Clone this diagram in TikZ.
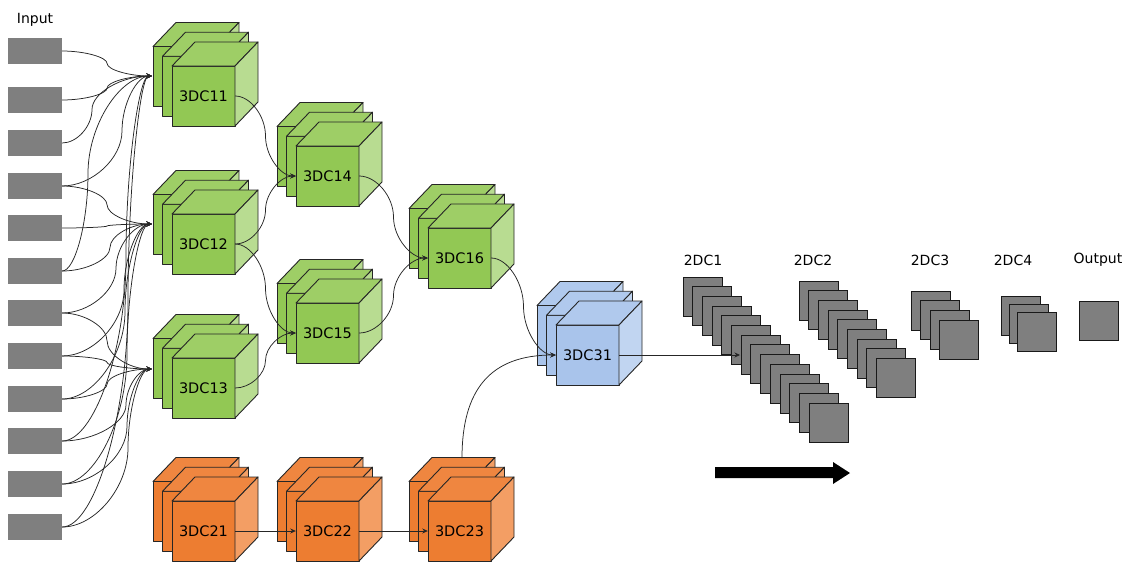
\documentclass[tikz,border=0pt]{standalone}
\usepackage{fontspec}
\setmainfont{DejaVu Sans}
\usetikzlibrary{arrows.meta,calc}
\definecolor{gFc}{RGB}{146,200,84}
\definecolor{gTc}{RGB}{158,206,102}
\definecolor{gSc}{RGB}{184,220,145}
\definecolor{oFc}{RGB}{237,125,49}
\definecolor{oTc}{RGB}{239,134,64}
\definecolor{oSc}{RGB}{243,158,100}
\definecolor{bFc}{RGB}{169,196,235}
\definecolor{bTc}{RGB}{176,201,237}
\definecolor{bSc}{RGB}{193,213,241}
\definecolor{boxgray}{RGB}{127,127,127}
\tikzset{
  cubeline/.style={draw=black!85, line width=0.9pt, line join=round},
  gF/.style={cubeline, fill=gFc}, gT/.style={cubeline, fill=gTc}, gS/.style={cubeline, fill=gSc},
  oF/.style={cubeline, fill=oFc}, oT/.style={cubeline, fill=oTc}, oS/.style={cubeline, fill=oSc},
  bF/.style={cubeline, fill=bFc}, bT/.style={cubeline, fill=bTc}, bS/.style={cubeline, fill=bSc},
  inbox/.style={fill=boxgray, draw=none, minimum width=54pt, minimum height=26pt, inner sep=0pt},
  sq/.style={fill=boxgray, draw=black!90, line width=0.9pt},
  conn/.style={draw=black!85, line width=0.75pt, -{Stealth[length=5.5pt,width=5pt]}},
  lab/.style={font=\fontsize{14.5}{16}\selectfont, inner sep=0pt, minimum width=63pt, minimum height=60pt},
  txt/.style={font=\fontsize{14}{16}\selectfont, anchor=base, inner sep=0pt},
}
\newcommand{\onecube}[3]{%
  \path[#3F] ({#1},{#2}) rectangle ++(63,60);
  \path[#3T] ({#1},{#2}) -- ++(23,-24) -- ++(63,0) -- ++(-23,24) -- cycle;
  \path[#3S] ({#1+63},{#2}) -- ++(23,-24) -- ++(0,60) -- ++(-23,24) -- cycle;}
\newcommand{\cubestack}[5]{%
  \onecube{#2-19}{#3-19.5}{#4}
  \onecube{#2-9.5}{#3-9.75}{#4}
  \onecube{#2}{#3}{#4}
  \node[lab] (#1) at ({#2+31.5},{#3+30}) {#5};}
\newcommand{\pcurve}[3]{%
  \draw[conn] let \p1=(#1), \p2=(#2) in (\p1) .. controls ({(\x1+#3)/2},\y1) and ({#3},{\y1+(\y2-\y1)/4}) .. ({#3},{(\y1+\y2)/2}) .. controls ({#3},{\y1+3*(\y2-\y1)/4}) and ({(\x2+#3)/2},\y2) .. (\p2);}
\newcommand{\sqstack}[5]{%
  \foreach \i in {1,...,#3} \path[sq] ({#1+(\i-1)*#4},{#2+(\i-1)*#5}) rectangle ++(39,39);}
\begin{document}
\begin{tikzpicture}[x=1pt,y=-1pt]
\useasboundingbox (0,0) rectangle (1136,563);
% inputs
\node[txt] (lin) at (35,23) {Input};
\foreach \i/\yy in {1/51,2/100,3/143,4/186,5/228,6/271,7/313,8/356,9/399,10/441,11/484,12/527}
  \node[inbox] (in\i) at (35,\yy) {};
% cubes
\cubestack{c11}{172}{66}{g}{3DC11}
\cubestack{c12}{172}{214}{g}{3DC12}
\cubestack{c13}{172}{358}{g}{3DC13}
\cubestack{c14}{296}{146}{g}{3DC14}
\cubestack{c15}{296}{303}{g}{3DC15}
\cubestack{c16}{428}{228}{g}{3DC16}
\cubestack{c21}{172}{501}{o}{3DC21}
\cubestack{c22}{296}{501}{o}{3DC22}
\cubestack{c23}{428}{501}{o}{3DC23}
\cubestack{c31}{556}{325}{b}{3DC31}
% 2D stacks
\sqstack{683}{277}{14}{9.7}{9.7}
\sqstack{799}{281}{9}{9.7}{9.7}
\sqstack{911}{291}{4}{9.5}{9.7}
\sqstack{1001}{296}{3}{8}{8}
\node[sq, minimum width=39pt, minimum height=39pt, inner sep=0pt, anchor=north west] (out) at (1079,301) {};
\node[txt] (l1) at (703,265) {2DC1};
\node[txt] (l2) at (813,265) {2DC2};
\node[txt] (l3) at (930,265) {2DC3};
\node[txt] (l4) at (1013,265) {2DC4};
\node[txt] (lout) at (1098,263) {Output};
% targets
\coordinate (tA) at (152,76);
\coordinate (tB) at (152,224);
\coordinate (tC) at (152,369);
\coordinate (c23top) at (462,458);
\coordinate (t2d) at (740,355);
% input connectors
\pcurve{in1.east}{tA}{(\x1+\x2)/2}
\pcurve{in2.east}{tA}{(\x1+\x2)/2}
\pcurve{in3.east}{tA}{92pt}
\pcurve{in4.east}{tA}{122pt}
\pcurve{in6.east}{tA}{88pt}
\pcurve{in10.east}{tA}{126pt}
\pcurve{in12.east}{tA}{128pt}
\pcurve{in4.east}{tB}{(\x1+\x2)/2}
\pcurve{in5.east}{tB}{(\x1+\x2)/2}
\pcurve{in6.east}{tB}{110pt}
\pcurve{in7.east}{tB}{116pt}
\pcurve{in8.east}{tB}{124pt}
\pcurve{in9.east}{tB}{125pt}
\pcurve{in11.east}{tB}{127pt}
\pcurve{in7.east}{tC}{(\x1+\x2)/2}
\pcurve{in8.east}{tC}{(\x1+\x2)/2}
\pcurve{in9.east}{tC}{(\x1+\x2)/2}
\pcurve{in10.east}{tC}{126pt}
\pcurve{in11.east}{tC}{127pt}
\pcurve{in12.east}{tC}{128pt}
% cube connectors
\pcurve{c11.east}{c14.west}{(\x1+\x2)/2}
\pcurve{c12.east}{c14.west}{(\x1+\x2)/2}
\pcurve{c12.east}{c15.west}{(\x1+\x2)/2}
\pcurve{c13.east}{c15.west}{(\x1+\x2)/2}
\pcurve{c14.east}{c16.west}{(\x1+\x2)/2}
\pcurve{c15.east}{c16.west}{(\x1+\x2)/2}
\pcurve{c16.east}{c31.west}{(\x1+\x2)/2}
\draw[conn] (c21.east) -- (c22.west);
\draw[conn] (c22.east) -- (c23.west);
\draw[conn] (c23top) .. controls (462,390) and (490,355) .. (c31.west);
\draw[conn] (c31.east) -- (t2d);
% big arrow
\fill[black] (715,467) -- (833,467) -- (833,462) -- (850,473) -- (833,484) -- (833,478) -- (715,478) -- cycle;
\end{tikzpicture}
\end{document}
